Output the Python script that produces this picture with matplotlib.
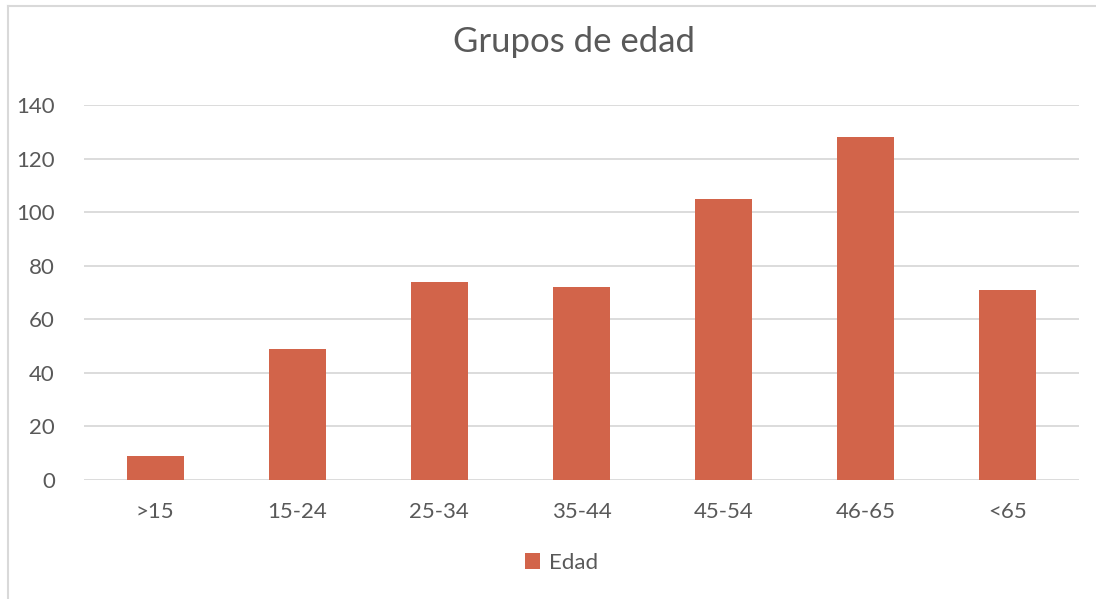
import matplotlib.pyplot as plt
from matplotlib.lines import Line2D

categories = [">15", "15-24", "25-34", "35-44", "45-54", "46-65", "<65"]
edad = [9, 49, 74, 72, 105, 128, 71]
yticks = [0, 20, 40, 60, 80, 100, 120, 140]

bar_color = "#d2644a"
text_color = "#595959"
grid_color = "#d9d9d9"

plt.rcParams["font.family"] = ["Lato", "DejaVu Sans"]

fig = plt.figure(figsize=(10.96, 5.99), dpi=100)
ax = fig.add_axes([84 / 1096, 1 - 480 / 599, (1079 - 84) / 1096, (480 - 105) / 599])

x = range(len(categories))
ax.bar(x, edad, width=0.4, color=bar_color, zorder=3, label="Edad")

ax.set_xlim(-0.5, len(categories) - 0.5)
ax.set_ylim(0, 140)
ax.set_yticks(yticks)
ax.set_xticks(list(x))
ax.set_xticklabels(categories)
ax.tick_params(axis="both", length=0, labelsize=16, colors=text_color)
ax.tick_params(axis="y", pad=21)
ax.tick_params(axis="x", pad=16)
ax.grid(axis="y", color=grid_color, linewidth=1.3, zorder=0)
for s in ax.spines.values():
    s.set_visible(False)

fig.text(574 / 1096, 1 - 42 / 599, "Grupos de edad", ha="center", va="center",
         fontsize=25, color=text_color)

ax.legend(loc="center", bbox_to_anchor=(0.48, -83 / 375), frameon=False,
          fontsize=16, labelcolor=text_color, handlelength=0.7, handleheight=0.7,
          handletextpad=0.4)

# chart frame (top and left edges visible)
fig.add_artist(Line2D([8 / 1096, 1], [1 - 6 / 599, 1 - 6 / 599], color=grid_color,
                      linewidth=1.5, transform=fig.transFigure))
fig.add_artist(Line2D([8 / 1096, 8 / 1096], [0, 1 - 6 / 599], color=grid_color,
                      linewidth=1.5, transform=fig.transFigure))

fig.savefig("out.png", dpi=100)
